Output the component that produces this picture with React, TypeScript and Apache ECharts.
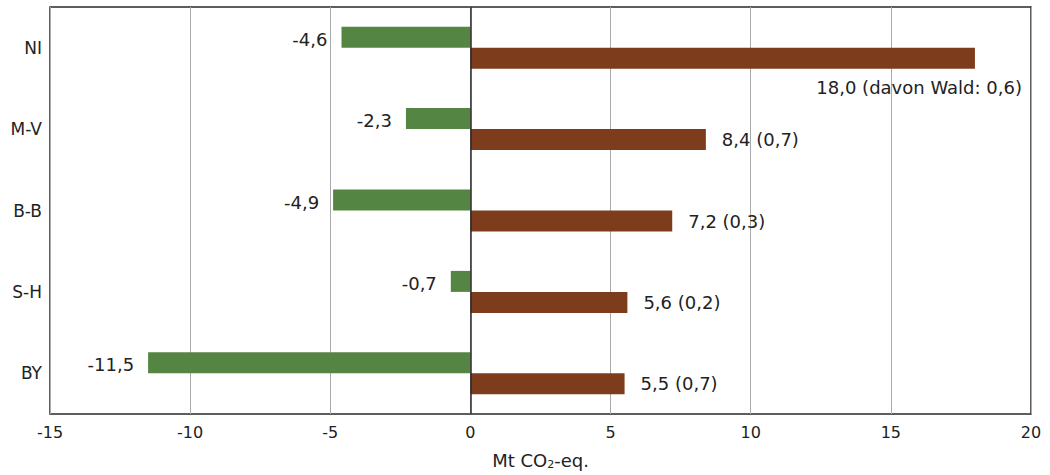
import React, { useEffect, useRef } from "react";
import * as echarts from "echarts";

const categories = ["NI", "M-V", "B-B", "S-H", "BY"];
const sinkValues = [-4.6, -2.3, -4.9, -0.7, -11.5];
const emissionValues = [18.0, 8.4, 7.2, 5.6, 5.5];
const forestShare = [0.6, 0.7, 0.3, 0.2, 0.7];
const xTicks = [-15, -10, -5, 0, 5, 10, 15, 20];

const fmt = (v: number) => v.toFixed(1).replace(".", ",");
const FONT = "DejaVu Sans";

export default function App() {
  const ref = useRef<HTMLDivElement>(null);
  useEffect(() => {
    if (!ref.current) return;
    const chart = echarts.init(ref.current, null, { renderer: "svg" });
    chart.setOption({
      animation: false,
      textStyle: { fontFamily: FONT },
      grid: {
        left: 50,
        right: 19,
        top: 7,
        bottom: 57,
        show: true,
        borderColor: "#2a2a2a",
        borderWidth: 1.5,
        backgroundColor: "transparent",
      },
      xAxis: {
        type: "value",
        min: xTicks[0],
        max: xTicks[xTicks.length - 1],
        interval: 5,
        axisLine: { show: false },
        axisTick: { show: false },
        axisLabel: {
          color: "#222",
          fontSize: 16,
          fontFamily: FONT,
          margin: 10,
          formatter: (v: number) => String(v),
        },
        splitLine: { show: true, lineStyle: { color: "#aaaaaa", width: 1 } },
        name: "Mt CO{sub|2}-eq.",
        nameLocation: "middle",
        nameGap: 36,
        nameTextStyle: {
          color: "#222",
          fontSize: 18,
          fontFamily: FONT,
          rich: {
            sub: { fontSize: 11, verticalAlign: "bottom", padding: [9, 0, 0, 0], color: "#222", fontFamily: FONT },
          },
        },
      },
      yAxis: {
        type: "category",
        data: categories,
        inverse: true,
        axisLine: { show: false, onZero: false },
        axisTick: { show: false },
        splitLine: { show: false },
        axisLabel: { color: "#222", fontSize: 17, fontFamily: FONT, margin: 8 },
      },
      series: [
        {
          type: "bar",
          name: "Senke",
          data: sinkValues,
          barWidth: 21,
          barGap: "0%",
          itemStyle: { color: "#548542" },
          label: {
            show: true,
            position: "left",
            distance: 14,
            color: "#222",
            fontSize: 18,
            fontFamily: FONT,
            offset: [0, 2],
            formatter: (p: any) => fmt(p.value),
          },
          markLine: {
            silent: true,
            symbol: "none",
            label: { show: false },
            lineStyle: { color: "#2a2a2a", width: 1.5, type: "solid" },
            data: [{ xAxis: 0 }],
          },
        },
        {
          type: "bar",
          name: "Emission",
          data: emissionValues.map((v, i) =>
            i === 0
              ? {
                  value: v,
                  label: {
                    position: "insideRight",
                    distance: 5,
                    offset: [52, 29],
                    formatter: (p: any) => `${fmt(p.value)} (davon Wald: ${fmt(forestShare[p.dataIndex])})`,
                  },
                }
              : v
          ),
          barWidth: 21,
          barGap: "0%",
          itemStyle: { color: "#7d3c1b" },
          label: {
            show: true,
            position: "right",
            distance: 16,
            color: "#222",
            fontSize: 18,
            fontFamily: FONT,
            formatter: (p: any) => `${fmt(p.value)} (${fmt(forestShare[p.dataIndex])})`,
          },
        },
      ],
    });
    return () => chart.dispose();
  }, []);
  return (
    <div
      ref={ref}
      style={{ position: "absolute", left: 0, top: 0, width: 1050, height: 475 }}
    />
  );
}
